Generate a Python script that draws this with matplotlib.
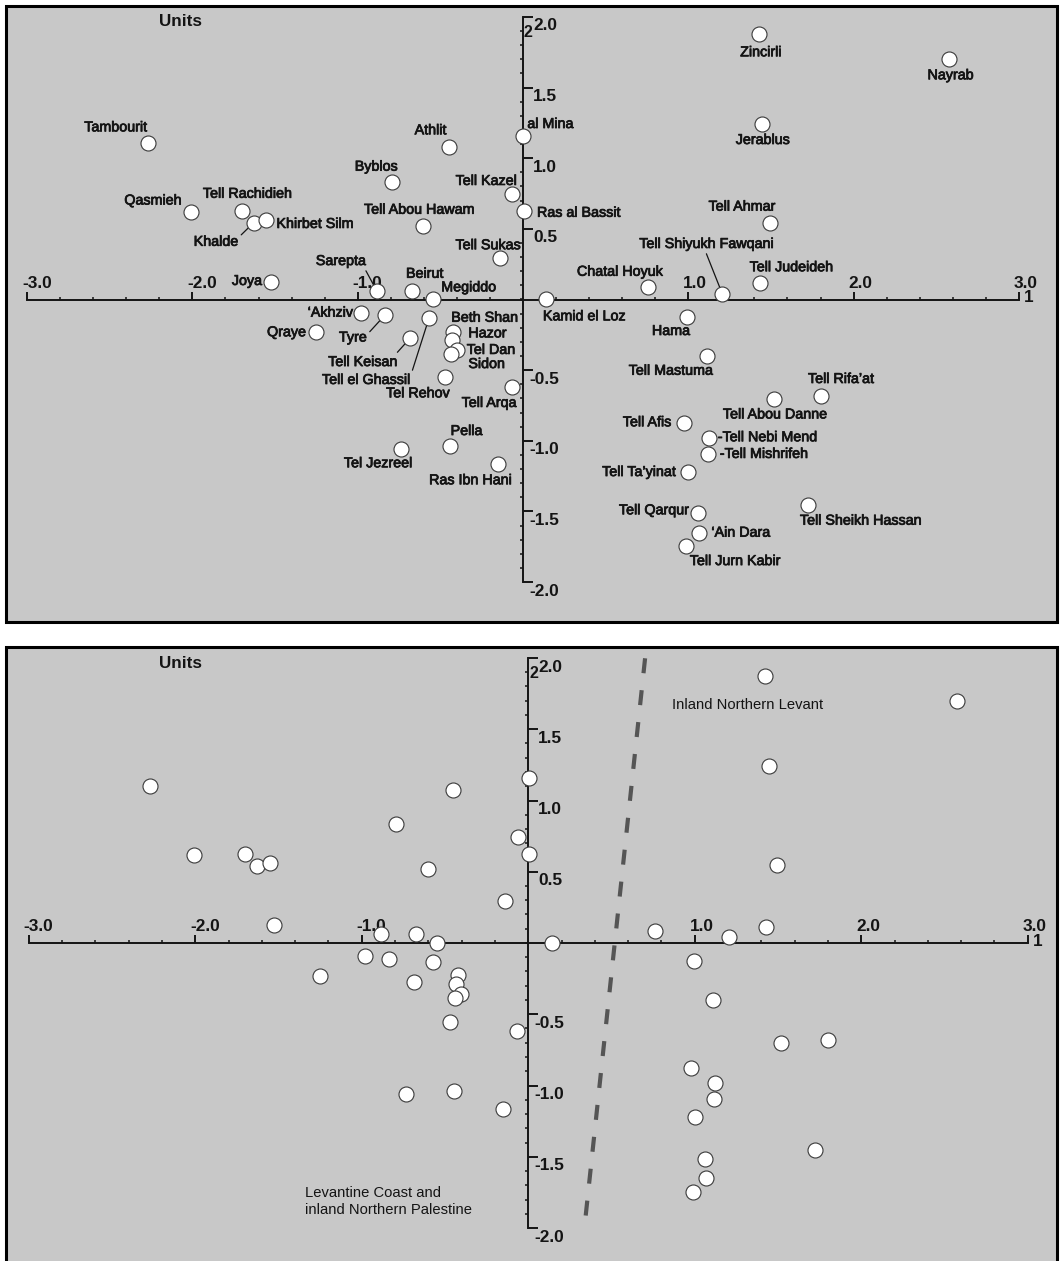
import matplotlib.pyplot as plt
import matplotlib.patheffects as pe
import numpy as np
from matplotlib.patches import Rectangle

# site scores on the first two components
sites = ['Tambourit', 'Athlit', 'al Mina', 'Byblos', 'Tell Kazel', 'Ras al Bassit',
         'Qasmieh', 'Tell Rachidieh', 'Khalde', 'Khirbet Silm', 'Tell Abou Hawam',
         'Tell Sukas', 'Joya', 'Sarepta', 'Beirut', 'Megiddo', '\u2018Akhziv', 'Tyre',
         'Tell el Ghassil', 'Tell Keisan', 'Qraye', 'Beth Shan', 'Hazor', 'Tel Dan',
         'Sidon', 'Tel Rehov', 'Tell Arqa', 'Pella', 'Tel Jezreel', 'Ras Ibn Hani',
         'Zincirli', 'Nayrab', 'Jerablus', 'Tell Ahmar', 'Chatal Hoyuk',
         'Tell Shiyukh Fawqani', 'Tell Judeideh', 'Kamid el Loz', 'Hama',
         'Tell Mastuma', 'Tell Rifa\u2019at', 'Tell Abou Danne', 'Tell Afis',
         '-Tell Nebi Mend', '-Tell Mishrifeh', 'Tell Ta\u2019yinat', 'Tell Sheikh Hassan',
         'Tell Qarqur', '\u2018Ain Dara', 'Tell Jurn Kabir']
comp1 = [-2.270, -0.450, 0.002, -0.791, -0.064, 0.006,
         -2.008, -1.702, -1.630, -1.552, -0.603,
         -0.141, -1.524, -0.885, -0.673, -0.546, -0.982, -0.835,
         -0.569, -0.684, -1.252, -0.422, -0.431, -0.401,
         -0.437, -0.472, -0.068, -0.444, -0.736, -0.151,
         1.425, 2.578, 1.448, 1.495, 0.759,
         1.206, 1.431, 0.141, 0.995,
         1.112, 1.800, 1.517, 0.975,
         1.124, 1.118, 0.999, 1.722,
         1.060, 1.067, 0.989]
comp2 = [1.105, 1.077, 1.157, 0.834, 0.747, 0.628,
         0.619, 0.628, 0.543, 0.563, 0.522,
         0.292, 0.124, 0.062, 0.062, 0.001, -0.093, -0.110,
         -0.133, -0.275, -0.232, -0.228, -0.287, -0.357,
         -0.386, -0.551, -0.621, -1.037, -1.060, -1.166,
         1.877, 1.700, 1.242, 0.544, 0.086,
         0.039, 0.115, 0.001, -0.126,
         -0.398, -0.683, -0.704, -0.876,
         -0.982, -1.093, -1.221, -1.452,
         -1.513, -1.650, -1.745]

x_major = [-3.0, -2.0, -1.0, 1.0, 2.0, 3.0]
y_major = [2.0, 1.5, 1.0, 0.5, -0.5, -1.0, -1.5, -2.0]

# dividing line drawn on the lower panel
boundary_x = [0.702, 0.335]
boundary_y = [1.998, -2.026]

# label placement: (dx px, dy px, ha, leader relpos or None)
label_pos = {
    'Tambourit': (-32, 16, 'center', None), 'Athlit': (-18, 17, 'center', None),
    'al Mina': (4, 12, 'left', None), 'Byblos': (-16, 15, 'center', None),
    'Tell Kazel': (-26, 13, 'center', None), 'Ras al Bassit': (13, -2, 'left', None),
    'Qasmieh': (-9.5, 11.5, 'right', None), 'Tell Rachidieh': (6, 17, 'center', None),
    'Khalde': (-37.5, -19, 'center', (1.0, 0.8)), 'Khirbet Silm': (10, -4, 'left', None),
    'Tell Abou Hawam': (-4, 16, 'center', None), 'Tell Sukas': (-11.5, 13, 'center', None),
    'Joya': (-9, 1, 'right', None), 'Sarepta': (-35.7, 29.7, 'center', (0.95, 0.1)),
    'Beirut': (13, 17, 'center', None), 'Megiddo': (8.5, 12, 'left', None),
    '\u2018Akhziv': (-7.5, 0, 'right', None), 'Tyre': (-32, -22.5, 'center', (1.0, 0.7)),
    'Tell el Ghassil': (-62.5, -61.7, 'center', (1.0, 0.85)),
    'Tell Keisan': (-47, -23.7, 'center', (0.96, 1.0)),
    'Qraye': (-10, 0, 'right', None), 'Beth Shan': (-2, 14, 'left', None),
    'Hazor': (16.6, 6.7, 'left', None), 'Tel Dan': (10, 0, 'left', None),
    'Sidon': (17.6, -10, 'left', None), 'Tel Rehov': (-27, -16, 'center', None),
    'Tell Arqa': (-22.5, -15.7, 'center', None), 'Pella': (17, 15, 'center', None),
    'Tel Jezreel': (-23, -14, 'center', None), 'Ras Ibn Hani': (-27.5, -16, 'center', None),
    'Zincirli': (2.5, -18, 'center', None), 'Nayrab': (1.5, -16, 'center', None),
    'Jerablus': (0.5, -16, 'center', None), 'Tell Ahmar': (-28, 16, 'center', None),
    'Chatal Hoyuk': (-28.5, 15.6, 'center', None),
    'Tell Shiyukh Fawqani': (-15.7, 50, 'center', (0.49, 0.0)),
    'Tell Judeideh': (32, 16, 'center', None), 'Kamid el Loz': (-3.4, -17, 'left', None),
    'Hama': (-16.5, -13.7, 'center', None), 'Tell Mastuma': (-36, -15, 'center', None),
    'Tell Rifa\u2019at': (20.6, 17, 'center', None),
    'Tell Abou Danne': (1.4, -15.5, 'center', None), 'Tell Afis': (-12.6, 1, 'right', None),
    '-Tell Nebi Mend': (9, 1, 'left', None), '-Tell Mishrifeh': (12, 0, 'left', None),
    'Tell Ta\u2019yinat': (-12, 0, 'right', None),
    'Tell Sheikh Hassan': (-7.7, -16, 'left', None), 'Tell Qarqur': (-9, 3, 'right', None),
    '\u2018Ain Dara': (12, 0, 'left', None), 'Tell Jurn Kabir': (3.3, -15, 'left', None),
}

W, H = 1061, 1261
BG = '#c8c8c8'
INK = '#141414'
plt.rcParams['font.family'] = ['Liberation Sans', 'DejaVu Sans']
fig = plt.figure(figsize=(W / 100, H / 100), dpi=100)
heavy = [pe.withStroke(linewidth=0.55, foreground=INK)]


def make_panel(box, origin, scale):
    """box = (left, top, right, bottom) in px, origin/scale of the data axes in px"""
    l, t, r, b = box
    ox, oy = origin
    sx, sy = scale
    ax = fig.add_axes([l / W, 1 - b / H, (r - l) / W, (b - t) / H])
    ax.set_xlim((l - ox) / sx, (r - ox) / sx)
    ax.set_ylim((oy - b) / sy, (oy - t) / sy)
    ax.set_facecolor(BG)
    for s in ['top', 'right']:
        ax.spines[s].set_visible(False)
    ax.spines['left'].set_position(('data', 0))
    ax.spines['left'].set_bounds(-2, 2)
    ax.spines['bottom'].set_position(('data', 0))
    ax.spines['bottom'].set_bounds(-3, 3)
    for s in ['left', 'bottom']:
        ax.spines[s].set_linewidth(1.4)
        ax.spines[s].set_color(INK)
    ax.set_xticks(x_major)
    ax.set_xticks(np.arange(-3, 3.001, 0.2), minor=True)
    ax.set_yticks(y_major)
    ax.set_yticks(np.arange(-2, 2.001, 0.1), minor=True)
    ax.tick_params(which='both', labelbottom=False, labelleft=False, color=INK)
    ax.tick_params(axis='x', which='major', direction='in', length=6, width=1.4)
    ax.tick_params(axis='x', which='minor', direction='in', length=2, width=1.1)
    ax.tick_params(axis='y', which='major', direction='in', length=7.5, width=1.4)
    ax.tick_params(axis='y', which='minor', direction='out', length=2, width=1.1)

    for v in x_major:
        ax.annotate(f'{v:.1f}', (v, 0), xytext=(-5, 16.5), textcoords='offset pixels',
                    ha='left', va='center', fontsize=12.4, fontweight='bold', color=INK)
    for v in y_major:
        ax.annotate(f'{v:.1f}', (0, v), xytext=(10 if v > 0 else 6, -9),
                    textcoords='offset pixels', ha='left', va='center',
                    fontsize=12.4, fontweight='bold', color=INK)
    ax.annotate('1', (3, 0), xytext=(10, 1.5), textcoords='offset pixels',
                ha='center', va='center', fontsize=12.4, fontweight='bold', color=INK)
    ax.annotate('2', (0, 2), xytext=(1, -16), textcoords='offset pixels',
                ha='left', va='center', fontsize=11.5, fontweight='bold', color=INK)
    ax.annotate('Units', (0, 1), xycoords='axes fraction', xytext=(175, -16.2),
                textcoords='offset pixels', ha='center', va='center',
                fontsize=12.3, fontweight='bold', color=INK)

    ax.add_patch(Rectangle((0, 0), 1, 1, transform=ax.transAxes, fill=False,
                           ec='black', lw=2.2, clip_on=False, zorder=6))
    ax.scatter(comp1, comp2, s=10.8 ** 2, c='white', edgecolors='#3a3a3a',
               linewidths=0.8, zorder=4)
    return ax


# upper panel: labelled sites
ax1 = make_panel((6, 5.5, 1057, 621.5), (523, 299.5), (165.3, 141.3))
for name, x, y in zip(sites, comp1, comp2):
    dx, dy, ha, rel = label_pos[name]
    kw = {}
    if rel is not None:
        kw['arrowprops'] = dict(arrowstyle='-', color=INK, lw=0.9, shrinkA=0,
                                shrinkB=5, relpos=rel)
    ax1.annotate(name, (x, y), xytext=(dx, dy), textcoords='offset pixels',
                 ha=ha, va='center', fontsize=10.3, color=INK, zorder=3,
                 path_effects=heavy, **kw)

# lower panel: the two groups
ax2 = make_panel((6, 647, 1057, 1266), (528.2, 943), (166.5, 142.5))
ax2.plot(boundary_x, boundary_y, color='#555555', lw=3.0,
         ls=(0, (3.6, 4.1)), dash_capstyle='butt', zorder=3)
ax2.text(0.861, 1.670, 'Inland Northern Levant', ha='left', va='center',
         fontsize=10.6, color=INK)
ax2.text(-1.343, -1.814, 'Levantine Coast and\ninland Northern Palestine',
         ha='left', va='center', fontsize=10.6, color=INK, linespacing=1.3)

fig.savefig('out.png', dpi=100, facecolor='white')
